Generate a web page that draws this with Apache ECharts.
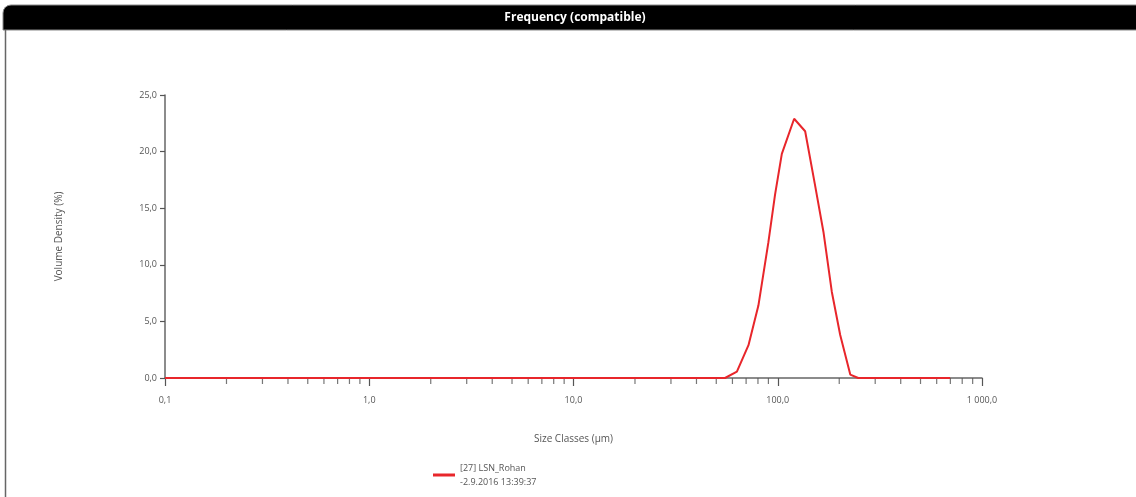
<!DOCTYPE html>
<html><head><meta charset="utf-8">
<script src="https://cdn.jsdelivr.net/npm/echarts@6/dist/echarts.min.js"></script>
<style>html,body{margin:0;padding:0;background:#fff}#c{width:1136px;height:497px}</style>
</head><body><div id="c"></div>
<script>
var sizes   = [0.1, 55.2, 63.1, 71.9, 80.4, 90, 97, 104.7, 120.3, 136.2, 152.4, 167.4, 184, 202.2, 226.5, 247.7, 698];
var density = [0,   0,    0.56, 2.9,  6.4,  12.0, 16.2, 19.8, 22.9, 21.8, 17.0, 12.9, 7.6, 3.8, 0.3, 0, 0];
var seriesName = "[27] LSN_Rohan\n-2.9.2016 13:39:37";
var yTicks = [0, 5, 10, 15, 20, 25];
var xMajor = [0.1, 1, 10, 100, 1000];
var xMinor = [0.2,0.3,0.4,0.5,0.6,0.7,0.8,0.9, 2,3,4,5,6,7,8,9, 20,30,40,50,60,70,80,90, 200,300,400,500,600,700,800,900];

function fmt(v){
  var s = Number(v).toFixed(1).replace('.', ',');
  var parts = s.split(',');
  parts[0] = parts[0].replace(/\B(?=(\d{3})+(?!\d))/g, ' ');
  return parts.join(',');
}

var chart = echarts.init(document.getElementById('c'), null, {renderer:'canvas'});
var F = 'Open Sans, sans-serif';
chart.setOption({
  animation: false,
  backgroundColor: '#fff',
  graphic: [
    {type:'rect', shape:{x:3, y:5, width:1140, height:25, r:[8,0,0,0]}, style:{fill:'#000', stroke:'#888', lineWidth:1}, z:0},
    {type:'line', shape:{x1:5.5, y1:30, x2:5.5, y2:497}, style:{stroke:'#666', lineWidth:1.5}},
    {type:'text', x:575, y:18, style:{text:'Frequency (compatible)', fill:'#fff', font:'bold 12px "Open Sans"', align:'center', verticalAlign:'middle'}}
  ],
  grid: {left:165, right:154, top:95, bottom:119, containLabel:false},
  legend: {
    left: 428, top: 456, orient:'vertical',
    itemWidth: 22, itemHeight: 3, icon: 'rect',
    textStyle: {fontFamily:F, fontSize:9, color:'#555', lineHeight:14},
    data: [seriesName]
  },
  xAxis: {
    type:'log', logBase:10, min:0.1, max:1000,
    name:'Size Classes (µm)', nameLocation:'middle', nameGap:56,
    nameTextStyle:{fontFamily:F, fontSize:10, color:'#555'},
    axisLine:{show:true, onZero:false, lineStyle:{color:'#666', width:1.5}},
    axisTick:{show:true, inside:false, length:8, lineStyle:{color:'#555', width:1.2}},
    splitLine:{show:false},
    axisLabel:{fontFamily:F, fontSize:9, color:'#555', margin:18, formatter:function(v){return fmt(v);}}
  },
  yAxis: {
    type:'value', min:0, max:25, interval:5,
    name:'Volume Density (%)', nameLocation:'middle', nameGap:101, nameRotate:90,
    nameTextStyle:{fontFamily:F, fontSize:10, color:'#555'},
    axisLine:{show:true, lineStyle:{color:'#666', width:1.5}},
    axisTick:{show:true, length:5, lineStyle:{color:'#555', width:1.2}},
    splitLine:{show:false},
    axisLabel:{fontFamily:F, fontSize:9, color:'#555', margin:8, formatter:function(v){return fmt(v);}}
  },
  series: [
    {
      type:'scatter', silent:true, symbol:'rect', symbolSize:[1.2,6], symbolOffset:[0,3],
      itemStyle:{color:'#555'},
      data: xMinor.map(function(v){return [v, 0];}), z:1
    },
    {
      name: seriesName, type:'line', symbol:'none', smooth:false,
      lineStyle:{color:'#e8262b', width:2}, itemStyle:{color:'#e8262b'},
      data: sizes.map(function(s,i){return [s, density[i]];}), z:3
    }
  ]
});
</script></body></html>
